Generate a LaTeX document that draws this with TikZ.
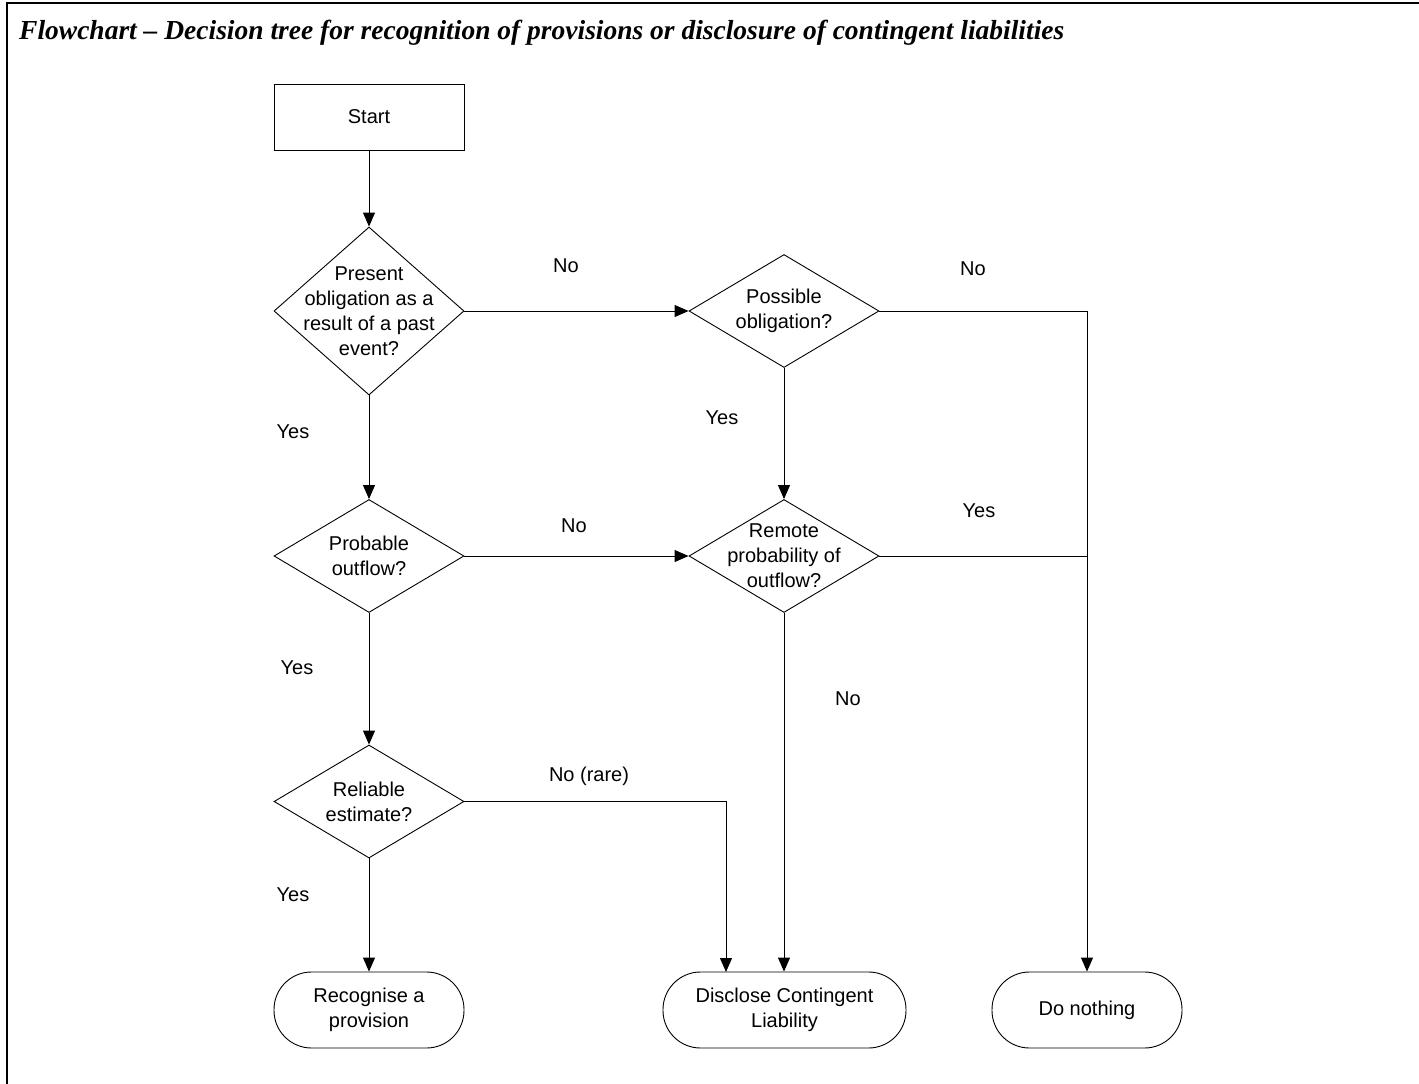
\documentclass[tikz,border=0pt]{standalone}
\usepackage{fontspec}
\setmainfont{Liberation Sans}
\newfontfamily\titlefont{Liberation Serif}
\usetikzlibrary{shapes.geometric,arrows.meta}
\tikzset{
  base/.style={font=\fontsize{20}{25}\selectfont, align=center},
  boxnode/.style={base, draw, rectangle, line width=0.9pt, minimum width=190pt, minimum height=66pt, inner sep=0pt},
  diam/.style={draw, diamond, line width=0.9pt, minimum width=190pt, minimum height=113pt, inner sep=0pt},
  dtxt/.style={base, inner sep=0pt},
  term/.style={base, draw, rectangle, rounded corners=37.5pt, line width=0.9pt, minimum height=76pt, inner sep=0pt},
  lbl/.style={base, inner sep=0pt},
  conn/.style={line width=1pt, -{Triangle[length=14pt,width=12pt]}},
  plain/.style={line width=1pt}
}
\begin{document}
\begin{tikzpicture}[x=1pt,y=-1pt]
\useasboundingbox (0,0) rectangle (1419,1084);
% frame
\draw[line width=2.4pt, line join=miter] (7,1084) -- (7,3) -- (1419,3);
% title
\node[anchor=base west, inner sep=0pt, font=\titlefont\bfseries\itshape\fontsize{27.5}{30}\selectfont] (title) at (19,39)
  {Flowchart – Decision tree for recognition of provisions or disclosure of contingent liabilities};

% nodes
\node[boxnode] (start) at (369,117) {Start};
\node[diam, minimum height=168pt] (d1) at (369,311) {};
\node[dtxt] (d1t) at (d1) {Present\\obligation as a\\result of a past\\event?};
\node[diam] (pos) at (784,311) {};
\node[dtxt] (post) at (pos) {Possible\\obligation?};
\node[diam] (prob) at (369,556) {};
\node[dtxt] (probt) at (prob) {Probable\\outflow?};
\node[diam] (rem) at (784,556) {};
\node[dtxt] (remt) at (rem) {Remote\\probability of\\outflow?};
\node[diam] (rel) at (369,801.5) {};
\node[dtxt] (relt) at (rel) {Reliable\\estimate?};
\node[term, minimum width=190pt] (rec) at (369,1010) {Recognise a\\provision};
\node[term, minimum width=243pt] (dis) at (784.5,1010) {Disclose Contingent\\Liability};
\node[term, minimum width=190pt] (dn) at (1087,1010) {Do nothing};

% connectors
\draw[conn] (start.south) -- (d1.north);
\draw[conn] (d1.east) -- (pos.west);
\draw[conn] (d1.south) -- (prob.north);
\draw[conn] (pos.south) -- (rem.north);
\draw[conn] (pos.east) -- (pos.east -| dn.north) -- (dn.north);
\draw[plain] (rem.east) -- (rem.east -| dn.north);
\draw[conn] (prob.east) -- (rem.west);
\draw[conn] (prob.south) -- (rel.north);
\draw[conn] (rem.south) -- (rem.south |- dis.north);
\coordinate (disL) at (726,972);
\draw[conn] (rel.east) -- (rel.east -| disL) -- (disL);
\draw[conn] (rel.south) -- (rec.north);

% labels
\node[lbl] (l1) at (566,266) {No};
\node[lbl] (l2) at (973,269) {No};
\node[lbl] (l3) at (293,432) {Yes};
\node[lbl] (l4) at (722,418) {Yes};
\node[lbl] (l5) at (574,526) {No};
\node[lbl] (l6) at (979,511) {Yes};
\node[lbl] (l7) at (297,668) {Yes};
\node[lbl] (l8) at (848,699) {No};
\node[lbl] (l9) at (589,776) {No (rare)};
\node[lbl] (l10) at (293,895) {Yes};
\end{tikzpicture}
\end{document}
